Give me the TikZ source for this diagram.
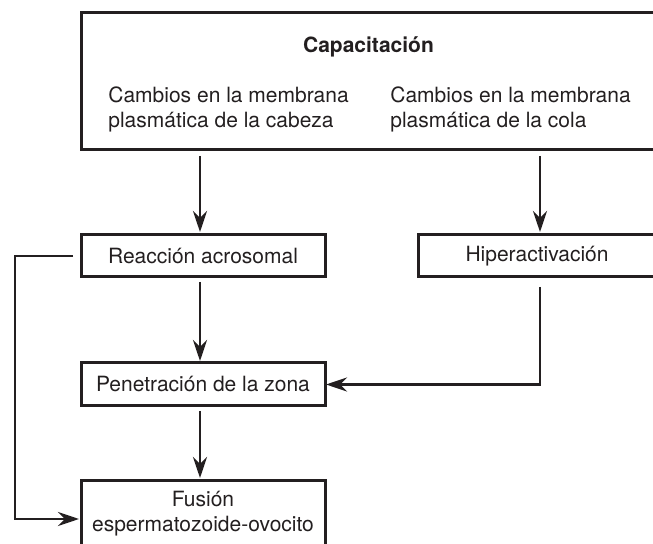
\documentclass[tikz,border=0pt]{standalone}
\usepackage{fontspec}
\setmainfont{TeX Gyre Heros}
\usepackage{tikz}
\usetikzlibrary{arrows.meta, positioning}
\definecolor{inkblack}{HTML}{231F20}
\tikzset{
  mainbox/.style={
    draw=inkblack, rectangle, minimum width=287.5pt, minimum height=68.5pt,
    inner sep=0pt, outer sep=0pt, line width=1.5pt
  },
  specbox/.style={
    draw=inkblack, rectangle, minimum height=21pt,
    text centered, inner sep=0pt, outer sep=0pt, line width=1.5pt,
    align=center, font=\fontsize{10.5}{12.5}\selectfont, text=inkblack
  },
  sectionlabel/.style={
    font=\fontsize{10.5}{12.5}\selectfont\bfseries, text=inkblack,
    inner sep=0pt
  },
  sidetext/.style={
    font=\fontsize{10.5}{12.5}\selectfont, text=inkblack,
    align=left, anchor=west, inner sep=0pt
  },
  arrow/.style={
    -{Stealth[length=10.5pt, width=7pt, inset=3.5pt]}, draw=inkblack,
    line width=1.4pt
  },
}

\begin{document}
\begin{tikzpicture}
  \useasboundingbox (0,0) rectangle (326.5pt,-272pt);

  %%% CAPACITACION box (top) %%%
  \node[mainbox, anchor=north west] (cap) at (40.5pt,-6.5pt) {};

  \node[sectionlabel] (lbl_cap) at ([yshift=-17pt]cap.north)
    {Capacitación};

  \node[sidetext] (head) at ([shift={(13.5pt,-48.25pt)}]cap.north west)
    {Cambios en la membrana\\plasmática de la cabeza};

  \node[sidetext] (tail) at ([shift={(154.5pt,-48.25pt)}]cap.north west)
    {Cambios en la membrana\\plasmática de la cola};

  %%% Second row %%%
  \node[specbox, minimum width=122pt, below right=42.5pt and 0pt of cap.south west] (reac)
    {Reacción acrosomal};

  \node[specbox, minimum width=119pt, right=46.5pt of reac] (hiper)
    {Hiperactivación};

  %%% Lower boxes %%%
  \node[specbox, minimum width=122pt, minimum height=21.5pt, below=43pt of reac] (pen)
    {Penetración de la zona};

  \node[specbox, minimum width=122pt, minimum height=33pt, below=37.5pt of pen] (fus)
    {Fusión\\espermatozoide-ovocito};

  %%% Arrows %%%
  \draw[arrow] ([xshift=-1.5pt, yshift=-3pt]reac.north |- cap.south) -- ([xshift=-1.5pt, yshift=1.5pt]reac.north);
  \draw[arrow] ([xshift=1.5pt, yshift=-3pt]hiper.north |- cap.south) -- ([xshift=1.5pt, yshift=1.5pt]hiper.north);
  \draw[arrow] ([xshift=-1.5pt, yshift=-2.5pt]reac.south) -- ([xshift=-1.5pt, yshift=1pt]pen.north);
  \draw[arrow] ([xshift=1.5pt, yshift=-5pt]hiper.south) |- ([xshift=0.5pt]pen.east);
  \draw[arrow] ([xshift=-1.5pt, yshift=-2.5pt]pen.south) -- ([xshift=-1.5pt, yshift=1.5pt]fus.north);

  %%% Loop: reaction -> fusion %%%
  \draw[arrow] ([xshift=-4pt]reac.west) -- ++(-29pt,0) |- ([xshift=-1pt, yshift=-2.5pt]fus.west);

\end{tikzpicture}
\end{document}
